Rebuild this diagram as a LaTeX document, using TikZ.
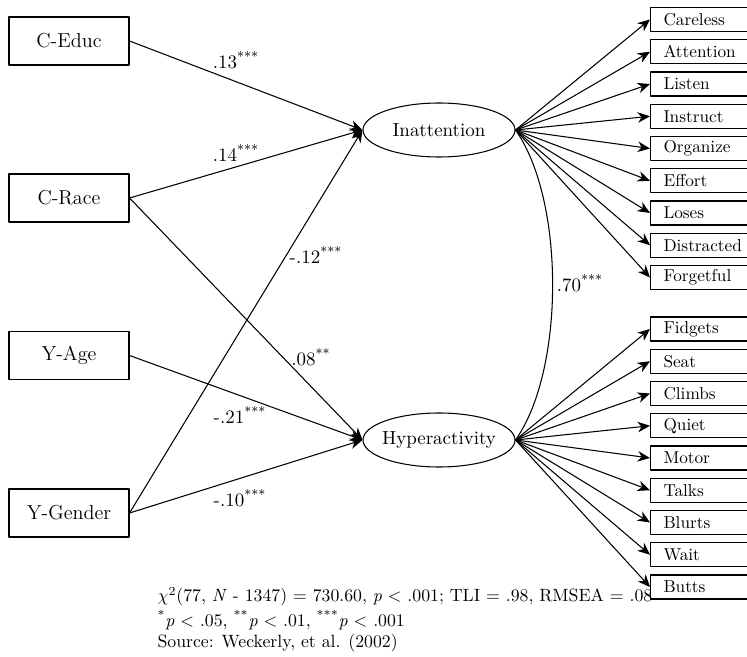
\documentclass[tikz,border=0pt]{standalone}
\usepackage{amsmath,amssymb}
\usepackage{xcolor}
\usepackage{tikz}
\usetikzlibrary{arrows.meta,calc,shapes.geometric}

\begin{document}
\begin{tikzpicture}[>={Stealth[length=7pt,width=6pt,inset=2.2pt]},line join=round,line width=0.6pt,
  font=\fontsize{10.8}{12.5}\selectfont,
  varbox/.style={draw,minimum width=2.4cm,minimum height=0.96cm,inner sep=0pt,font=\fontsize{11.5}{13}\selectfont},
  latent/.style={draw,ellipse,minimum width=3.04cm,minimum height=1.08cm,inner xsep=-6pt,inner ysep=-2pt},
  item/.style={draw,anchor=west,text width=1.7cm,inner xsep=0.26cm,minimum height=0.48cm,inner ysep=0pt,align=left,font=\fontsize{9.8}{11}\selectfont},
  coef/.style={inner sep=1pt},
  note/.style={anchor=west,inner sep=0pt,font=\fontsize{10.1}{12}\selectfont}]
  \useasboundingbox (0,0) rectangle (14.940,-13.140);
  % observed predictors
  \node[varbox] (CE) at (1.380,-0.820) {C-Educ};
  \node[varbox] (CR) at (1.380,-3.960) {C-Race};
  \node[varbox] (YA) at (1.380,-7.110) {Y-Age};
  \node[varbox] (YG) at (1.380,-10.260) {Y-Gender};
  % latent factors
  \node[latent] (IN) at (8.780,-2.600) {Inattention};
  \node[latent] (HY) at (8.780,-8.800) {Hyperactivity};
  % indicators
  \node[item] (I1) at (13.000,-0.390) {Careless};
  \node[item] (I2) at (13.000,-1.035) {Attention};
  \node[item] (I3) at (13.000,-1.680) {Listen};
  \node[item] (I4) at (13.000,-2.325) {Instruct};
  \node[item] (I5) at (13.000,-2.970) {Organize};
  \node[item] (I6) at (13.000,-3.615) {Effort};
  \node[item] (I7) at (13.000,-4.260) {Loses};
  \node[item] (I8) at (13.000,-4.905) {Distracted};
  \node[item] (I9) at (13.000,-5.550) {Forgetful};
  \node[item] (H1) at (13.000,-6.580) {Fidgets};
  \node[item] (H2) at (13.000,-7.225) {Seat};
  \node[item] (H3) at (13.000,-7.870) {Climbs};
  \node[item] (H4) at (13.000,-8.515) {Quiet};
  \node[item] (H5) at (13.000,-9.160) {Motor};
  \node[item] (H6) at (13.000,-9.805) {Talks};
  \node[item] (H7) at (13.000,-10.450) {Blurts};
  \node[item] (H8) at (13.000,-11.095) {Wait};
  \node[item] (H9) at (13.000,-11.740) {Butts};
  % structural paths
  \draw[->] (CE.east) -- (IN.west);
  \draw[->] (CR.east) -- (IN.west);
  \draw[->] (YG.east) -- (IN.west);
  \draw[->] (CR.east) -- (HY.west);
  \draw[->] (YA.east) -- (HY.west);
  \draw[->] (YG.east) -- (HY.west);
  % loadings
  \draw[->] (IN.east) -- (I1.west);
  \draw[->] (IN.east) -- (I2.west);
  \draw[->] (IN.east) -- (I3.west);
  \draw[->] (IN.east) -- (I4.west);
  \draw[->] (IN.east) -- (I5.west);
  \draw[->] (IN.east) -- (I6.west);
  \draw[->] (IN.east) -- (I7.west);
  \draw[->] (IN.east) -- (I8.west);
  \draw[->] (IN.east) -- (I9.west);
  \draw[->] (HY.east) -- (H1.west);
  \draw[->] (HY.east) -- (H2.west);
  \draw[->] (HY.east) -- (H3.west);
  \draw[->] (HY.east) -- (H4.west);
  \draw[->] (HY.east) -- (H5.west);
  \draw[->] (HY.east) -- (H6.west);
  \draw[->] (HY.east) -- (H7.west);
  \draw[->] (HY.east) -- (H8.west);
  \draw[->] (HY.east) -- (H9.west);
  % factor correlation
  \draw (IN.east) .. controls (11.300,-4.000) and (11.300,-7.400) .. (HY.east);
  \node[coef] (r1) at (4.720,-1.200) {.13\textsuperscript{***}};
  \node[coef] (r2) at (4.720,-3.060) {.14\textsuperscript{***}};
  \node[coef] (r3) at (6.320,-5.100) {-.12\textsuperscript{***}};
  \node[coef] (r4) at (6.220,-7.140) {.08\textsuperscript{**}};
  \node[coef] (r5) at (4.800,-8.300) {-.21\textsuperscript{***}};
  \node[coef] (r6) at (4.800,-9.960) {-.10\textsuperscript{***}};
  \node[coef] (r7) at (11.600,-5.660) {.70\textsuperscript{***}};
  % fit and source notes
  \node[note] (fit) at (3.140,-11.940) {$\chi^2$(77, \textit{N} - 1347) = 730.60, \textit{p} $<$ .001; TLI = .98, RMSEA = .08};
  \node[note] (sig) at (3.140,-12.400) {\textsuperscript{*}\textit{p} $<$ .05, \textsuperscript{**}\textit{p} $<$ .01, \textsuperscript{***}\textit{p} $<$ .001};
  \node[note] (src) at (3.140,-12.860) {Source: Weckerly, et al. (2002)};
\end{tikzpicture}
\end{document}
